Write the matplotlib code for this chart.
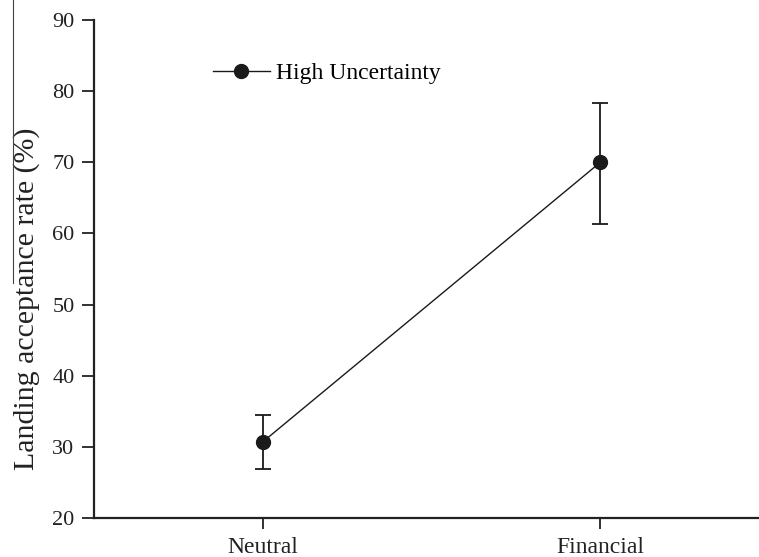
import matplotlib
matplotlib.use("Agg")
import matplotlib.pyplot as plt
from matplotlib.lines import Line2D

categories = ["Neutral", "Financial"]
means = [30.7, 70.0]
err_low = [3.8, 8.7]
err_high = [3.8, 8.4]
yticks = [20, 30, 40, 50, 60, 70, 80, 90]
series_label = "High Uncertainty"

plt.rcParams['font.family'] = ['Liberation Serif', 'DejaVu Serif']

fig = plt.figure(figsize=(7.59, 5.57), dpi=100)
ax = fig.add_axes([94/759, 1 - 518/557, 1 - 94/759, (518 - 20)/557])

x = list(range(len(categories)))
col = '#1a1a1a'
ax.errorbar(x, means, yerr=[err_low, err_high], fmt='none', ecolor=col,
            elinewidth=1.3, capsize=6, capthick=1.3)
ax.plot(x, means, 'o-', color=col, markersize=10, linewidth=1.0, label=series_label)

ax.set_xlim(-0.5, 1.47)
ax.set_ylim(20, 90)
ax.set_yticks(yticks)
ax.set_xticks(x)
ax.set_xticklabels(categories)
ax.spines['top'].set_visible(False)
ax.spines['right'].set_visible(False)
for s in ['left', 'bottom']:
    ax.spines[s].set_linewidth(1.6)
    ax.spines[s].set_color('#222222')
ax.tick_params(axis='y', direction='out', length=9, width=1.3, labelsize=16, colors='#222222', pad=5)
ax.tick_params(axis='x', direction='out', length=8, width=1.3, labelsize=17, colors='#222222', pad=6)
ax.set_ylabel("Landing acceptance rate (%)", fontsize=21.5, color='#222222')
ax.yaxis.set_label_coords(-0.081, 0.441)

# thin vertical scan line at the left edge of the reference
fig.add_artist(Line2D([13/759, 13/759], [1.0, 1 - 283/557], transform=fig.transFigure,
                      color='#444444', linewidth=0.8))

leg = fig.legend(loc='center left', bbox_to_anchor=(213/759, 1 - 73/557), frameon=False,
                 fontsize=17, handlelength=2.4, handletextpad=0.25, numpoints=1,
                 borderpad=0, borderaxespad=0)

fig.savefig("out.png", dpi=100)
